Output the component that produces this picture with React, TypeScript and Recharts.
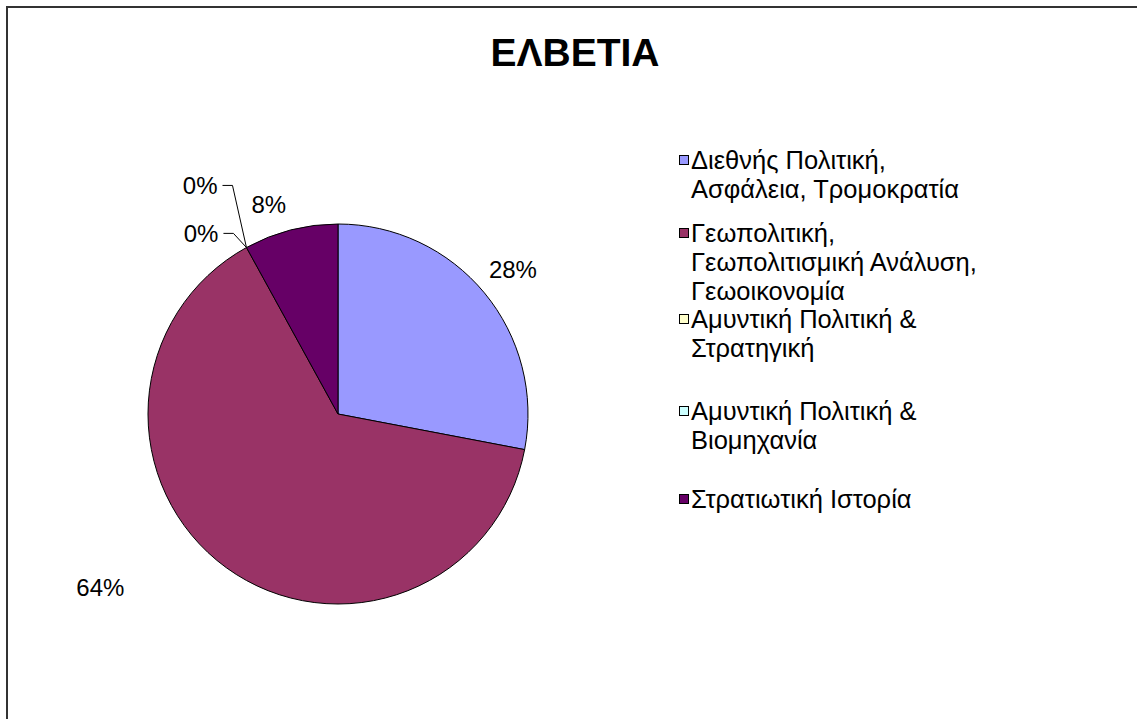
import React from 'react';
import { PieChart, Pie, Cell, Legend } from 'recharts';

const TITLE = 'ΕΛΒΕΤΙΑ';

const categories = [
  'Διεθνής Πολιτική, Ασφάλεια, Τρομοκρατία',
  'Γεωπολιτική, Γεωπολιτισμική Ανάλυση, Γεωοικονομία',
  'Αμυντική Πολιτική & Στρατηγική',
  'Αμυντική Πολιτική & Βιομηχανία',
  'Στρατιωτική Ιστορία',
];
const counts = [7, 16, 0, 0, 2];
const colors = ['#9999FF', '#993366', '#FFFFCC', '#CCFFFF', '#660066'];

const data = categories.map((name, i) => ({ name, value: counts[i] }));

// label placement: angle shift (deg) from slice middle, distance as factor of radius
const LABEL_LAYOUT = [
  { shift: 0, k: 1.195, leader: false },
  { shift: -17.8, k: 1.55, leader: false },
  { shift: 4.7, k: 1.14, leader: true },
  { shift: -1.0, k: 1.36, leader: true },
  { shift: 3.9, k: 1.16, leader: false },
];

// centre of first text line of each legend entry
const LEGEND_ROWS = [160, 233, 319, 411, 499];

const FONT = '"Liberation Sans", Arial, sans-serif';
const RAD = Math.PI / 180;

const renderLabel = (props: any) => {
  const { cx, cy, midAngle, outerRadius, percent, index } = props;
  const lay = LABEL_LAYOUT[index];
  const a = (midAngle + lay.shift) * RAD;
  const r = outerRadius * lay.k;
  const x = cx + r * Math.cos(a);
  const y = cy - r * Math.sin(a);
  const txt = `${Math.round(percent * 100)}%`;
  if (lay.leader) {
    const ex = cx + outerRadius * Math.cos(midAngle * RAD);
    const ey = cy - outerRadius * Math.sin(midAngle * RAD);
    return (
      <g key={`lbl-${index}`}>
        <polyline
          points={`${x + 5},${y} ${x + 15},${y} ${ex},${ey}`}
          fill="none"
          stroke="#000"
          strokeWidth={1}
        />
        <text x={x} y={y} textAnchor="end" dominantBaseline="central" fontFamily={FONT} fontSize={24} fill="#000">
          {txt}
        </text>
      </g>
    );
  }
  return (
    <text key={`lbl-${index}`} x={x} y={y} textAnchor="middle" dominantBaseline="central" fontFamily={FONT} fontSize={24} fill="#000">
      {txt}
    </text>
  );
};

const LegendBox = () => (
  <div style={{ position: 'relative', width: 330, height: 719, fontFamily: FONT }}>
    {categories.map((name, i) => (
      <div key={name} style={{ position: 'absolute', left: 0, top: LEGEND_ROWS[i] - 14, width: 330 }}>
        <span
          style={{
            position: 'absolute',
            left: 0,
            top: 9,
            width: 8,
            height: 8,
            background: colors[i],
            border: '1px solid #000',
          }}
        />
        <div style={{ marginLeft: 12, width: 296, fontSize: 25.5, lineHeight: '29px', color: '#000' }}>{name}</div>
      </div>
    ))}
  </div>
);

export default function App() {
  return (
    <div style={{ position: 'absolute', left: 0, top: 0, width: 1137, height: 719, overflow: 'hidden', background: '#fff' }}>
      <div
        style={{
          position: 'absolute',
          left: 6,
          top: 6,
          width: 1140,
          height: 720,
          borderTop: '2px solid #333',
          borderLeft: '2px solid #333',
        }}
      />
      <div
        style={{
          position: 'absolute',
          left: 0,
          top: 33,
          width: 1150,
          textAlign: 'center',
          fontFamily: FONT,
          fontWeight: 'bold',
          fontSize: 39,
          lineHeight: '39px',
          color: '#000',
        }}
      >
        {TITLE}
      </div>
      <div style={{ position: 'absolute', left: 0, top: 0 }}>
        <PieChart width={1137} height={719} margin={{ top: 0, right: 0, bottom: 0, left: 0 }}>
          <Pie
            data={data}
            dataKey="value"
            nameKey="name"
            cx={338}
            cy={414}
            outerRadius={190}
            startAngle={90}
            endAngle={-270}
            stroke="#000"
            strokeWidth={1}
            label={renderLabel}
            labelLine={false}
            isAnimationActive={false}
          >
            {data.map((d, i) => (
              <Cell key={d.name} fill={colors[i]} />
            ))}
          </Pie>
          <Legend
            layout="vertical"
            align="right"
            verticalAlign="top"
            content={<LegendBox />}
            wrapperStyle={{ left: 679, top: 0, width: 330 }}
          />
        </PieChart>
      </div>
    </div>
  );
}
